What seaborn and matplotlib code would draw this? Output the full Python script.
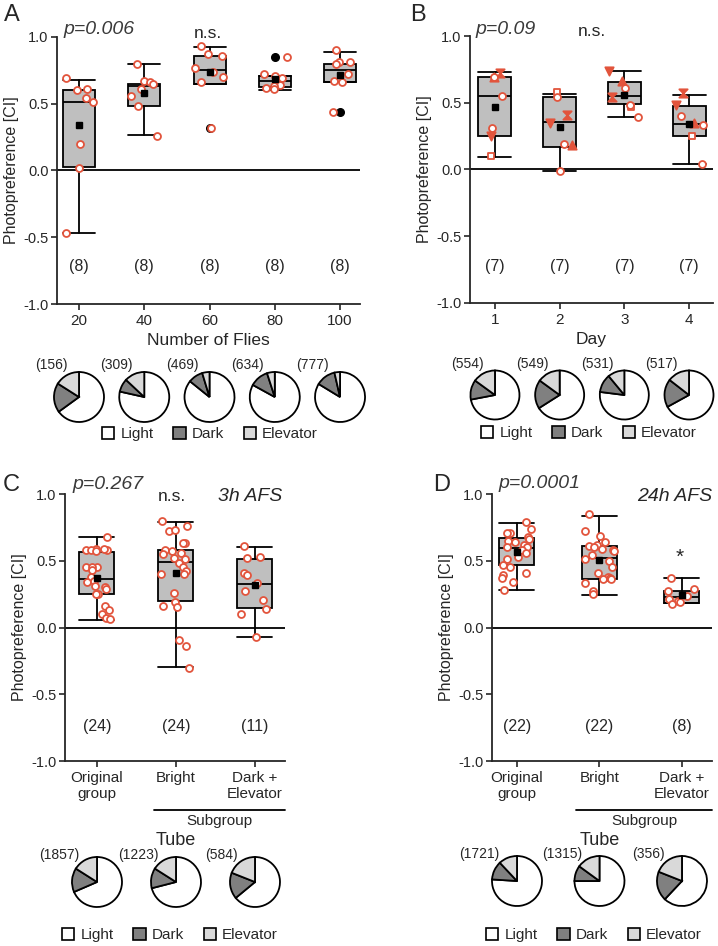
import numpy as np
import pandas as pd
import matplotlib.pyplot as plt
import seaborn as sns
from matplotlib.path import Path
from matplotlib.patches import Patch

W, H = 718, 946
RED = '#e2543c'
BOX_GRAY = '#bfbfbf'
PIE_COLORS = ['white', '#808080', '#d9d9d9']
PIE_NAMES = ['Light', 'Dark', 'Elevator']

# ---------------- panel A : number of flies
flies_labels = ['20', '40', '60', '80', '100']
flies_points = [
    [0.69, 0.61, 0.60, 0.54, 0.51, 0.20, 0.02, -0.47],
    [0.80, 0.67, 0.66, 0.65, 0.61, 0.56, 0.48, 0.26],
    [0.93, 0.87, 0.86, 0.77, 0.74, 0.70, 0.66, 0.32],
    [0.85, 0.72, 0.71, 0.69, 0.64, 0.63, 0.62, 0.61],
    [0.90, 0.81, 0.80, 0.81, 0.72, 0.67, 0.66, 0.44],
]
flies_q1 = [0.025, 0.48, 0.65, 0.625, 0.66]
flies_med = [0.515, 0.635, 0.75, 0.67, 0.75]
flies_q3 = [0.605, 0.65, 0.855, 0.71, 0.80]
flies_lo = [-0.47, 0.265, 0.65, 0.60, 0.66]
flies_hi = [0.68, 0.80, 0.925, 0.71, 0.885]
flies_mean = [0.34, 0.58, 0.735, 0.685, 0.715]
flies_outliers = [[], [], [0.32], [0.85], [0.435]]
flies_counts = [156, 309, 469, 634, 777]
flies_light = [0.65, 0.785, 0.858, 0.83, 0.837]
flies_dark = [0.19, 0.085, 0.095, 0.12, 0.127]
flies_elev = [0.16, 0.13, 0.047, 0.05, 0.036]

# ---------------- panel B : day (one marker per replicate)
day_labels = ['1', '2', '3', '4']
day_markers = ['^', 'v', 'hourglass', 's', 'o', 'o', 'o']
day_filled = [True, True, True, False, False, False, False]
day_points = [
    [0.69, 0.25, 0.72, 0.10, 0.69, 0.55, 0.31],
    [0.18, 0.35, 0.41, 0.58, 0.54, 0.19, -0.01],
    [0.66, 0.74, 0.54, 0.47, 0.61, 0.48, 0.39],
    [0.35, 0.48, 0.57, 0.25, 0.40, 0.33, 0.04],
]
day_q1 = [0.252, 0.165, 0.494, 0.252]
day_med = [0.551, 0.359, 0.551, 0.344]
day_q3 = [0.693, 0.544, 0.656, 0.474]
day_lo = [0.092, -0.01, 0.394, 0.042]
day_hi = [0.728, 0.566, 0.741, 0.559]
day_mean = [0.469, 0.317, 0.561, 0.342]
day_counts = [554, 549, 531, 517]
day_light = [0.72, 0.66, 0.77, 0.67]
day_dark = [0.13, 0.19, 0.12, 0.185]
day_elev = [0.15, 0.15, 0.11, 0.145]

# ---------------- panels C / D : tube subgroups
tube_labels = ['Original\ngroup', 'Bright', 'Dark +\nElevator']

afs3_points = [
    [0.68, 0.59, 0.58, 0.58, 0.58, 0.57, 0.59, 0.45, 0.45, 0.45, 0.43, 0.38,
     0.34, 0.35, 0.31, 0.30, 0.29, 0.25, 0.25, 0.16, 0.13, 0.10, 0.07, 0.06],
    [0.80, 0.76, 0.72, 0.73, 0.635, 0.63, 0.58, 0.56, 0.55, 0.57, 0.51, 0.52,
     0.48, 0.45, 0.42, 0.40, 0.40, 0.26, 0.19, 0.16, 0.15, -0.09, -0.14, -0.30],
    [0.61, 0.52, 0.525, 0.41, 0.39, 0.33, 0.275, 0.205, 0.14, 0.10, -0.07],
]
afs3_q1 = [0.2475, 0.195, 0.1425]
afs3_med = [0.36, 0.4925, 0.325]
afs3_q3 = [0.5625, 0.58, 0.515]
afs3_lo = [0.055, -0.2975, -0.07]
afs3_hi = [0.68, 0.79, 0.605]
afs3_mean = [0.37, 0.41, 0.315]
afs3_counts = [1857, 1223, 584]
afs3_light = [0.685, 0.71, 0.64]
afs3_dark = [0.155, 0.13, 0.17]
afs3_elev = [0.16, 0.16, 0.19]

afs24_points = [
    [0.79, 0.74, 0.705, 0.71, 0.675, 0.66, 0.65, 0.64, 0.62, 0.60, 0.60,
     0.58, 0.56, 0.525, 0.51, 0.47, 0.455, 0.41, 0.39, 0.37, 0.34, 0.28],
    [0.85, 0.725, 0.685, 0.64, 0.62, 0.61, 0.60, 0.59, 0.58, 0.57, 0.54,
     0.51, 0.50, 0.45, 0.41, 0.38, 0.37, 0.36, 0.36, 0.33, 0.27, 0.25],
    [0.37, 0.29, 0.27, 0.235, 0.21, 0.20, 0.19, 0.175],
]
afs24_q1 = [0.465, 0.3625, 0.18]
afs24_med = [0.5925, 0.5175, 0.225]
afs24_q3 = [0.6675, 0.6125, 0.2725]
afs24_lo = [0.28, 0.24, 0.18]
afs24_hi = [0.785, 0.8375, 0.3675]
afs24_mean = [0.5675, 0.505, 0.2425]
afs24_counts = [1721, 1315, 356]
afs24_light = [0.76, 0.75, 0.62]
afs24_dark = [0.12, 0.10, 0.19]
afs24_elev = [0.12, 0.15, 0.19]

sns.set_style('ticks')
plt.rcParams['font.family'] = ['Liberation Sans', 'DejaVu Sans']
plt.rcParams['axes.unicode_minus'] = False
np.random.seed(7)

fig = plt.figure(figsize=(W / 100, H / 100), dpi=100)

hourglass = Path([(-1, 1), (1, 1), (-1, -1), (1, -1), (-1, 1)],
                 [Path.MOVETO, Path.LINETO, Path.LINETO, Path.LINETO, Path.CLOSEPOLY])


def px_axes(left, top, right, bottom):
    return fig.add_axes([left / W, 1 - bottom / H, (right - left) / W, (bottom - top) / H])


def to_long(labels, points):
    rows = [(lab, v) for lab, vals in zip(labels, points) for v in vals]
    return pd.DataFrame(rows, columns=['group', 'value'])


def box_panel(ax, labels, q1, med, q3, lo, hi, mean, outliers, xlim, px_width):
    n = len(labels)
    ax_px = ax.get_position().width * W
    spacing = ax_px / (xlim[1] - xlim[0])
    w = px_width / spacing
    stats = [dict(q1=q1[i], med=med[i], q3=q3[i], whislo=lo[i], whishi=hi[i],
                  mean=mean[i], fliers=outliers[i]) for i in range(n)]
    ax.bxp(stats, positions=range(n), widths=w, capwidths=w, showmeans=True,
           patch_artist=True, manage_ticks=False,
           boxprops=dict(facecolor=BOX_GRAY, edgecolor='black', linewidth=1.3),
           medianprops=dict(color='black', linewidth=1.3),
           whiskerprops=dict(color='black', linewidth=1.3),
           capprops=dict(color='black', linewidth=1.3),
           meanprops=dict(marker='s', markerfacecolor='black', markeredgecolor='black',
                          markersize=4.5, zorder=6),
           flierprops=dict(marker='o', markerfacecolor='black', markeredgecolor='black',
                           markersize=5.5))
    ax.axhline(0, color='black', lw=1.3, zorder=1.5)
    return 15 / spacing


def finish_axes(ax, labels, xlim, counts_y, npoints):
    ax.set_xlim(*xlim)
    ax.set_ylim(-1, 1)
    ax.set_xticks(range(len(labels)))
    ax.set_xticklabels(labels, fontsize=11)
    ax.set_yticks([-1, -0.5, 0, 0.5, 1])
    ax.set_yticklabels(['-1.0', '-0.5', '0.0', '0.5', '1.0'], fontsize=10.5)
    ax.set_ylabel('Photopreference [CI]', fontsize=11.5, labelpad=3)
    ax.set_xlabel('')
    ax.tick_params(direction='out', length=4, width=1.2)
    ax.tick_params(axis='y', pad=2)
    ax.tick_params(axis='x', pad=3)
    for s in ['left', 'bottom']:
        ax.spines[s].set_linewidth(1.3)
    sns.despine(ax=ax)
    for i, k in enumerate(npoints):
        ax.text(i, counts_y, f'({k})', ha='center', va='center', fontsize=11.5)


def pie_row(ax, light, dark, elev, counts, cy, r, lab_x, lab_y):
    lim = 1.06
    for i in range(len(counts)):
        cx = ax.transData.transform((i, 0))[0]
        half = r * lim
        pax = fig.add_axes([(cx - half) / W, (H - cy - half) / H, 2 * half / W, 2 * half / H])
        pax.pie([light[i], dark[i], elev[i]], colors=PIE_COLORS, startangle=90,
                counterclock=False, wedgeprops=dict(edgecolor='black', linewidth=1.3))
        pax.set_xlim(-lim, lim)
        pax.set_ylim(-lim, lim)
        pax.text(lab_x, lab_y, f'({counts[i]})', ha='right', va='bottom', fontsize=10)


def pie_legend(cx, cy):
    handles = [Patch(facecolor=c, edgecolor='black', linewidth=1.2) for c in PIE_COLORS]
    fig.legend(handles, PIE_NAMES, ncol=3, loc='center', bbox_to_anchor=(cx / W, 1 - cy / H),
               frameon=False, fontsize=11, handlelength=0.8, handleheight=0.8,
               handletextpad=0.4, columnspacing=1.3)


def open_strip(ax, labels, points, jitter):
    sns.stripplot(data=to_long(labels, points), x='group', y='value', order=labels,
                  jitter=jitter, size=5, color='white', edgecolor=RED, linewidth=1.3,
                  ax=ax, zorder=4)


# ---------------- A
axA = px_axes(57, 37, 360, 304)
xlimA = (-0.337, 4.306)
jit = box_panel(axA, flies_labels, flies_q1, flies_med, flies_q3, flies_lo, flies_hi,
                flies_mean, flies_outliers, xlimA, 32)
open_strip(axA, flies_labels, flies_points, jit)
finish_axes(axA, flies_labels, xlimA, -0.72, [len(p) for p in flies_points])
axA.set_xlabel('Number of Flies', fontsize=12.5, labelpad=4)
pie_row(axA, flies_light, flies_dark, flies_elev, flies_counts, 397, 25, -0.45, 1.0)
pie_legend(210, 434)

# ---------------- B
axB = px_axes(470, 36, 713, 303)
xlimB = (-0.386, 3.371)
jit = box_panel(axB, day_labels, day_q1, day_med, day_q3, day_lo, day_hi,
                day_mean, [[] for _ in day_labels], xlimB, 33)
day_df = pd.DataFrame([(g, r, v) for g, vals in enumerate(day_points)
                       for r, v in enumerate(vals)], columns=['group', 'rep', 'value'])
# horizontal scatter around each category, like stripplot does
day_df['x'] = day_df['group'] + np.random.uniform(-jit, jit, len(day_df))
for r, (m, filled) in enumerate(zip(day_markers, day_filled)):
    marker = hourglass if m == 'hourglass' else m
    sub = day_df[day_df['rep'] == r]
    sns.scatterplot(data=sub, x='x', y='value', marker=marker, s=36 if filled else 25,
                    color=RED if filled else 'white', edgecolor=RED, linewidth=1.3,
                    ax=axB, zorder=4, legend=False)
finish_axes(axB, day_labels, xlimB, -0.73, [len(p) for p in day_points])
axB.set_xlabel('Day', fontsize=12.5, labelpad=4)
pie_row(axB, day_light, day_dark, day_elev, day_counts, 395, 24.5, -0.45, 1.0)
pie_legend(589, 433)

# ---------------- C and D
for left, right, xlim, pts, q1, med, q3, lo, hi, mean, counts, light, dark, elev, cy in [
    (65, 285, (-0.405, 2.38), afs3_points, afs3_q1, afs3_med, afs3_q3, afs3_lo, afs3_hi,
     afs3_mean, afs3_counts, afs3_light, afs3_dark, afs3_elev, 882),
    (492, 712, (-0.303, 2.364), afs24_points, afs24_q1, afs24_med, afs24_q3, afs24_lo,
     afs24_hi, afs24_mean, afs24_counts, afs24_light, afs24_dark, afs24_elev, 881),
]:
    ax = px_axes(left, 494, right, 761)
    jit = box_panel(ax, tube_labels, q1, med, q3, lo, hi, mean, [[], [], []], xlim, 35)
    open_strip(ax, tube_labels, pts, jit)
    finish_axes(ax, tube_labels, xlim, -0.74, [len(p) for p in pts])
    trans = ax.get_xaxis_transform()
    ax.plot([0.72, xlim[1]], [-0.1835, -0.1835], transform=trans, color='black',
            lw=1.3, clip_on=False)
    ax.text((0.72 + xlim[1]) / 2, -0.225, 'Subgroup', transform=trans, ha='center',
            va='center', fontsize=11)
    ax.text(1, -0.296, 'Tube', transform=trans, ha='center', va='center', fontsize=13)
    pie_row(ax, light, dark, elev, counts, cy, 25, -0.7, 0.8)

pie_legend(170, 935)
pie_legend(594, 935)

# ---------------- annotations


def ftext(x, y, s, **kw):
    fig.text(x / W, 1 - y / H, s, **kw)


for x, y, s in [(11.5, 15, 'A'), (418, 15, 'B'), (11.5, 485, 'C'), (442, 485, 'D')]:
    ftext(x, y, s, fontsize=17, ha='center', va='center')
for x, y, s in [(63, 29, 'p=0.006'), (475, 30, 'p=0.09'), (72, 484, 'p=0.267'),
                (498, 483, 'p=0.0001')]:
    ftext(x, y, s, fontsize=14, style='italic', color='#3a3a3a', ha='left', va='center')
for x, y in [(208, 33), (592, 32), (172, 496)]:
    ftext(x, y, 'n.s.', fontsize=12.5, ha='center', va='center')
ftext(250, 496, '3h AFS', fontsize=14, style='italic', ha='center', va='center')
ftext(675, 496, '24h AFS', fontsize=14, style='italic', ha='center', va='center')
ftext(680, 557, '*', fontsize=15, ha='center', va='center')

fig.savefig('out.png', dpi=100)
